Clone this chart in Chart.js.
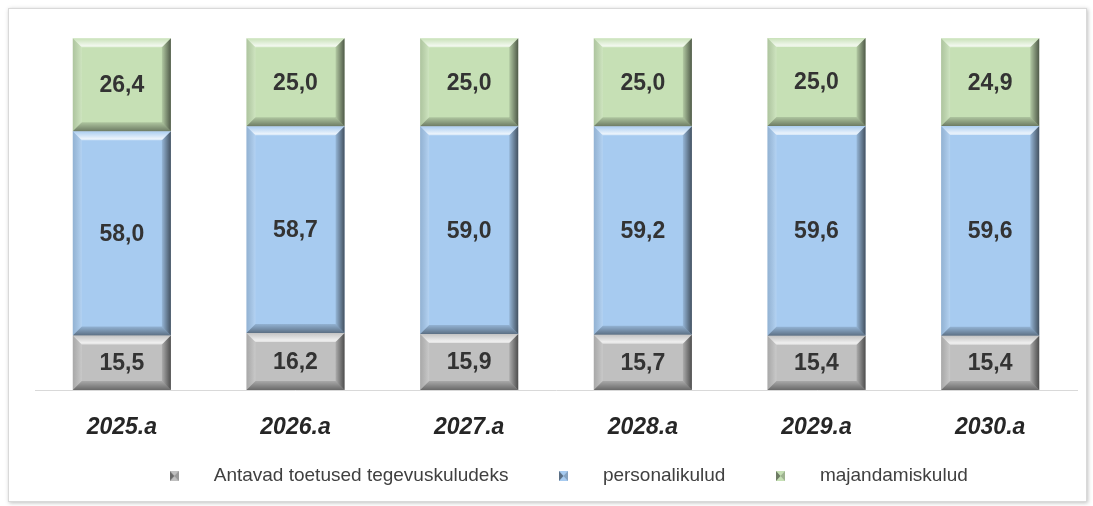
<!DOCTYPE html>
<html>
<head>
<meta charset="utf-8">
<script src="https://cdn.jsdelivr.net/npm/chart.js@4/dist/chart.umd.min.js"></script>
<style>
  html, body { margin: 0; padding: 0; background: #fff; }
  #frame {
    position: absolute; left: 8px; top: 8px; width: 1077px; height: 492px;
    border: 1px solid #d9d9d9;
    box-shadow: 1px 1px 4px rgba(0, 0, 0, 0.25);
  }
  #wrap { position: absolute; left: 0; top: 0; width: 1093px; height: 506px; }
</style>
</head>
<body>
<div id="frame"></div>
<div id="wrap"><canvas id="costChart"></canvas></div>
<script>
// Chart data
const years = ['2025.a', '2026.a', '2027.a', '2028.a', '2029.a', '2030.a'];
const toetused = [15.5, 16.2, 15.9, 15.7, 15.4, 15.4];
const personal = [58.0, 58.7, 59.0, 59.2, 59.6, 59.6];
const majandamine = [26.4, 25.0, 25.0, 25.0, 25.0, 24.9];

const seriesNames = ['Antavad toetused tegevuskuludeks', 'personalikulud', 'majandamiskulud'];
const seriesColors = ['#c0c0c0', '#a7cbf0', '#c6e0b5'];

// small bevelled square used as legend marker
function makeMarker(color) {
  const c = document.createElement('canvas');
  c.width = 9; c.height = 10;
  const g = c.getContext('2d');
  g.fillStyle = color;
  g.fillRect(0, 0, 9, 10);
  g.fillStyle = 'rgba(0,0,0,0.45)';
  g.beginPath(); g.moveTo(0, 0); g.lineTo(4.5, 5); g.lineTo(0, 10); g.closePath(); g.fill();
  g.fillStyle = 'rgba(0,0,0,0.2)';
  g.beginPath(); g.moveTo(9, 0); g.lineTo(4.5, 5); g.lineTo(9, 10); g.closePath(); g.fill();
  return c;
}

// bevel edges + value labels on each bar segment
const bevelPlugin = {
  id: 'bevel',
  afterDatasetsDraw(chart) {
    const ctx = chart.ctx;
    chart.data.datasets.forEach((ds, di) => {
      const meta = chart.getDatasetMeta(di);
      meta.data.forEach((bar, i) => {
        const p = bar.getProps(['x', 'y', 'base', 'width'], true);
        const l = p.x - p.width / 2, r = p.x + p.width / 2;
        const t = Math.min(p.y, p.base), b = Math.max(p.y, p.base);
        const e = 9;
        ctx.save();
        // top
        let g = ctx.createLinearGradient(0, t, 0, t + e);
        g.addColorStop(0, 'rgba(255,255,255,0.05)');
        g.addColorStop(0.8, 'rgba(255,255,255,0.75)');
        g.addColorStop(1, 'rgba(255,255,255,0.5)');
        ctx.fillStyle = g;
        ctx.beginPath(); ctx.moveTo(l, t); ctx.lineTo(r, t); ctx.lineTo(r - e, t + e); ctx.lineTo(l + e, t + e); ctx.closePath(); ctx.fill();
        // left
        g = ctx.createLinearGradient(l, 0, l + e, 0);
        g.addColorStop(0, 'rgba(0,0,0,0.12)');
        g.addColorStop(1, 'rgba(255,255,255,0.15)');
        ctx.fillStyle = g;
        ctx.beginPath(); ctx.moveTo(l, t); ctx.lineTo(l + e, t + e); ctx.lineTo(l + e, b - e); ctx.lineTo(l, b); ctx.closePath(); ctx.fill();
        // right
        g = ctx.createLinearGradient(r - e, 0, r, 0);
        g.addColorStop(0, 'rgba(0,0,0,0.1)');
        g.addColorStop(1, 'rgba(0,0,0,0.6)');
        ctx.fillStyle = g;
        ctx.beginPath(); ctx.moveTo(r, t); ctx.lineTo(r, b); ctx.lineTo(r - e, b - e); ctx.lineTo(r - e, t + e); ctx.closePath(); ctx.fill();
        // bottom
        g = ctx.createLinearGradient(0, b - e, 0, b);
        g.addColorStop(0, 'rgba(0,0,0,0.12)');
        g.addColorStop(1, 'rgba(0,0,0,0.45)');
        ctx.fillStyle = g;
        ctx.beginPath(); ctx.moveTo(l, b); ctx.lineTo(l + e, b - e); ctx.lineTo(r - e, b - e); ctx.lineTo(r, b); ctx.closePath(); ctx.fill();
        // value label
        ctx.fillStyle = '#333333';
        ctx.font = 'bold 23px "Liberation Sans", Arial, sans-serif';
        ctx.textAlign = 'center';
        ctx.textBaseline = 'middle';
        ctx.fillText(ds.data[i].toFixed(1).replace('.', ','), p.x, (t + b) / 2 + 1);
        ctx.restore();
      });
    });
  }
};

const ctx = document.getElementById('costChart').getContext('2d');
const costChart = new Chart(ctx, {
  type: 'bar',
  data: {
    labels: years,
    datasets: [toetused, personal, majandamine].map((arr, k) => ({
      label: seriesNames[k],
      data: arr,
      backgroundColor: seriesColors[k],
      borderWidth: 0,
      pointStyle: makeMarker(seriesColors[k]),
      barPercentage: 0.565,
      categoryPercentage: 1
    }))
  },
  options: {
    responsive: true,
    maintainAspectRatio: false,
    animation: false,
    layout: {
      padding: { left: 35, right: 16, top: 38, bottom: 10.5 }
    },
    plugins: {
      tooltip: { enabled: false },
      legend: {
        display: true,
        position: 'bottom',
        labels: {
          usePointStyle: true,
          pointStyleWidth: 60,
          padding: 25,
          color: '#404040',
          font: { family: '"Liberation Sans", Arial, sans-serif', size: 19 }
        }
      }
    },
    scales: {
      x: {
        stacked: true,
        grid: { display: false, drawTicks: false },
        border: { display: true, color: '#d9d9d9', width: 1 },
        ticks: {
          padding: 24,
          color: '#262626',
          font: { family: '"Liberation Sans", Arial, sans-serif', size: 23, weight: 'bold', style: 'italic' }
        },
        afterFit(scale) { scale.height = 51.5; }
      },
      y: {
        stacked: true,
        display: false,
        min: 0,
        max: 100
      }
    }
  },
  plugins: [bevelPlugin]
});
</script>
</body>
</html>
